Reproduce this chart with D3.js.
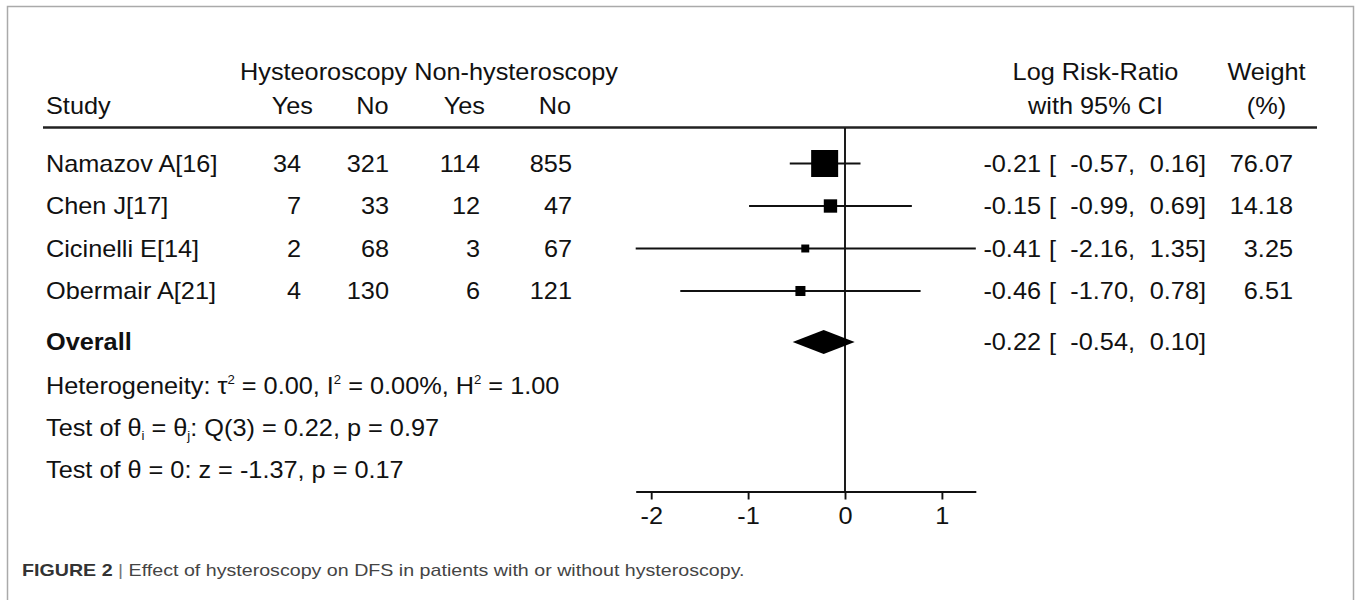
<!DOCTYPE html>
<html>
<head>
<meta charset="utf-8">
<script src="https://cdn.jsdelivr.net/npm/d3@7"></script>
<style>
  body { margin: 0; background: #fff; }
  svg text { font-family: "Liberation Sans", Arial, sans-serif; fill: #111; }
</style>
</head>
<body>
<svg id="chart" width="1356" height="600"></svg>
<script>
// study rows
const studies = ["Namazov A[16]", "Chen J[17]", "Cicinelli E[14]", "Obermair A[21]"];
const hystYes = [34, 7, 2, 4];
const hystNo = [321, 33, 68, 130];
const nonYes = [114, 12, 3, 6];
const nonNo = [855, 47, 67, 121];
const logRR = [-0.21, -0.15, -0.41, -0.46];
const ciLow = [-0.57, -0.99, -2.16, -1.70];
const ciHigh = [0.16, 0.69, 1.35, 0.78];
const weights = [76.07, 14.18, 3.25, 6.51];
// pooled estimate
const overallEst = -0.22, overallLow = -0.54, overallHigh = 0.10;
const axisTicks = [-2, -1, 0, 1];

const svg = d3.select("#chart");
const fs = 23;
const fmt = v => v.toFixed(2);   // plain hyphen minus like Stata
const lw = 1.9;

// frame round the figure
svg.append("rect").attr("x", 7.5).attr("y", 6.5).attr("width", 1346).attr("height", 700)
  .attr("fill", "none").attr("stroke", "#aaa").attr("stroke-width", 1.5);

// scales
let x = d3.scaleLinear().domain([d3.min(ciLow), d3.max(ciHigh)]).range([845 - 2.16 * 96.9, 845 + 1.35 * 96.9]);
let y = d3.scalePoint().domain(studies).range([163.5, 291]);
const yOverall = 342;
const axisY = 491.5;
let size = d3.scaleSqrt().domain([0, d3.max(weights)]).range([3, 27]);

// header
const head = svg.append("g").attr("font-size", fs);
head.append("text").attr("x", 46).attr("y", 114).text("Study");
head.append("text").attr("x", 240).attr("y", 80).text("Hysteoroscopy Non-hysteroscopy");
[["Yes", 313], ["No", 388.5], ["Yes", 485], ["No", 571]].forEach(h => {
  head.append("text").attr("x", h[1]).attr("y", 114).attr("text-anchor", "end").text(h[0]);
});
head.append("text").attr("x", 1095.5).attr("y", 80).attr("text-anchor", "middle").text("Log Risk-Ratio");
head.append("text").attr("x", 1095.5).attr("y", 114).attr("text-anchor", "middle").text("with 95% CI");
head.append("text").attr("x", 1266.5).attr("y", 80).attr("text-anchor", "middle").text("Weight");
head.append("text").attr("x", 1266.5).attr("y", 114).attr("text-anchor", "middle").text("(%)");

svg.append("line").attr("x1", 43).attr("x2", 1317).attr("y1", 127.5).attr("y2", 127.5)
  .attr("stroke", "#222").attr("stroke-width", 2.5);

// null line
svg.append("line").attr("x1", x(0)).attr("x2", x(0)).attr("y1", 128).attr("y2", axisY)
  .attr("stroke", "#111").attr("stroke-width", lw);

// table rows
const rows = svg.selectAll("g.row").data(studies).enter().append("g").attr("class", "row")
  .attr("transform", d => `translate(0,${y(d)})`).attr("font-size", fs);

rows.append("text").attr("x", 46).attr("y", 0).attr("dy", "0.36em").text(d => d);
const cols = [[hystYes, 301], [hystNo, 389], [nonYes, 480], [nonNo, 572]];
cols.forEach(c => {
  rows.append("text").attr("x", c[1]).attr("y", 0).attr("dy", "0.36em").attr("text-anchor", "end")
    .text((d, i) => c[0][i]);
});

// CI lines and squares
rows.append("line").attr("x1", (d, i) => x(ciLow[i])).attr("x2", (d, i) => x(ciHigh[i]))
  .attr("stroke", "#111").attr("stroke-width", lw);
rows.append("rect")
  .attr("x", (d, i) => x(logRR[i]) - size(weights[i]) / 2)
  .attr("y", (d, i) => -size(weights[i]) / 2)
  .attr("width", (d, i) => size(weights[i]))
  .attr("height", (d, i) => size(weights[i]))
  .attr("fill", "#000");

// effect columns
function effectText(g, est, lo, hi) {
  g.append("text").attr("x", 1041).attr("y", 0).attr("dy", "0.36em").attr("text-anchor", "end").text(fmt(est));
  g.append("text").attr("x", 1049).attr("y", 0).attr("dy", "0.36em").text("[");
  g.append("text").attr("x", 1135).attr("y", 0).attr("dy", "0.36em").attr("text-anchor", "end").text(fmt(lo) + ",");
  g.append("text").attr("x", 1206).attr("y", 0).attr("dy", "0.36em").attr("text-anchor", "end").text(fmt(hi) + "]");
}
rows.each(function(d, i) {
  const g = d3.select(this);
  effectText(g, logRR[i], ciLow[i], ciHigh[i]);
  g.append("text").attr("x", 1293).attr("y", 0).attr("dy", "0.36em").attr("text-anchor", "end").text(fmt(weights[i]));
});

// overall row
const ov = svg.append("g").attr("transform", `translate(0,${yOverall})`).attr("font-size", fs);
ov.append("text").attr("x", 46).attr("y", 0).attr("dy", "0.36em").attr("font-weight", "bold").text("Overall");
ov.append("path").attr("d", `M${x(overallLow)},0 L${x(overallEst)},-12 L${x(overallHigh)},0 L${x(overallEst)},12 Z`)
  .attr("fill", "#000");
effectText(ov, overallEst, overallLow, overallHigh);

// heterogeneity and tests
const notes = svg.append("g").attr("font-size", fs);
let t1 = notes.append("text").attr("x", 46).attr("y", 394);
t1.append("tspan").text("Heterogeneity: τ");
t1.append("tspan").attr("font-size", 12).attr("dy", -10).text("2");
t1.append("tspan").attr("dy", 10).text(" = 0.00, I");
t1.append("tspan").attr("font-size", 12).attr("dy", -10).text("2");
t1.append("tspan").attr("dy", 10).text(" = 0.00%, H");
t1.append("tspan").attr("font-size", 12).attr("dy", -10).text("2");
t1.append("tspan").attr("dy", 10).text(" = 1.00");

let t2 = notes.append("text").attr("x", 46).attr("y", 436);
t2.append("tspan").text("Test of θ");
t2.append("tspan").attr("font-size", 12).attr("dy", 4).text("i");
t2.append("tspan").attr("dy", -4).text(" = θ");
t2.append("tspan").attr("font-size", 12).attr("dy", 4).text("j");
t2.append("tspan").attr("dy", -4).text(": Q(3) = 0.22, p = 0.97");

notes.append("text").attr("x", 46).attr("y", 478).text("Test of θ = 0: z = -1.37, p = 0.17");

// x axis
const axis = svg.append("g").attr("transform", `translate(0,${axisY})`)
  .call(d3.axisBottom(x).tickValues(axisTicks).tickFormat(d => String(d)).tickSize(8).tickPadding(8).tickSizeOuter(0));
axis.select(".domain").attr("stroke", "#111").attr("stroke-width", lw);
axis.selectAll(".tick line").attr("stroke", "#111").attr("stroke-width", lw);
axis.selectAll(".tick text").attr("font-size", fs).attr("font-family", "Liberation Sans, Arial, sans-serif").attr("fill", "#111");

// the plot text is a little wider than Arial, stretch it sideways
svg.selectAll("text").each(function() {
  const t = d3.select(this);
  const tx = +t.attr("x") || 0, ty = +t.attr("y") || 0;
  t.attr("x", null).attr("y", null).attr("transform", `translate(${tx},${ty}) scale(1.1,1)`);
});

// caption
let cap = svg.append("text").attr("font-size", 17);
cap.append("tspan").attr("font-weight", "bold").style("fill", "#333").text("FIGURE 2");
cap.append("tspan").style("fill", "#777").text(" | ");
cap.append("tspan").style("fill", "#444").text("Effect of hysteroscopy on DFS in patients with or without hysteroscopy.");
const capW = cap.node().getComputedTextLength();
cap.attr("transform", `translate(22,576) scale(${723 / capW},1)`);
</script>
</body>
</html>
